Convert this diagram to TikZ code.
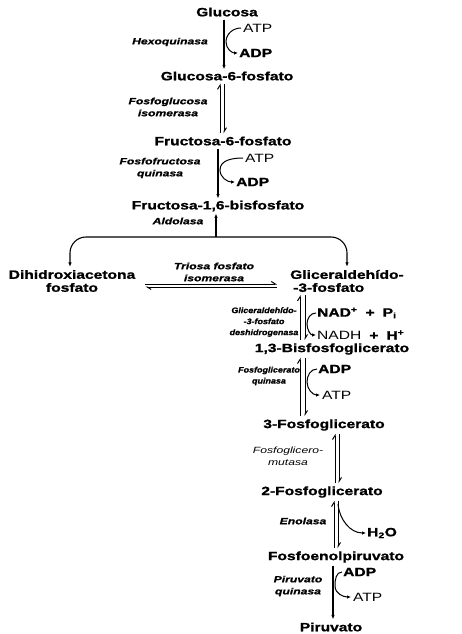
\documentclass[tikz,border=0pt]{standalone}
\usepackage{fontspec}
\usetikzlibrary{arrows.meta}
\newfontfamily\namefont[FakeStretch=1.3, BoldFeatures={FakeBold=1.2}]{Liberation Sans}
\newfontfamily\enzfont[FakeStretch=1.35, BoldItalicFeatures={FakeBold=1}]{Liberation Sans}
\newfontfamily\enzsfont[FakeStretch=1.12, BoldItalicFeatures={FakeBold=1}]{Liberation Sans}
\begin{document}
\begin{tikzpicture}[x=1pt,y=-1pt,
  met/.style={font=\namefont\bfseries\fontsize{12}{13}\selectfont, inner sep=0pt},
  enz/.style={font=\enzfont\bfseries\itshape\fontsize{9}{12}\selectfont, align=center, inner sep=0pt},
  enzl/.style={font=\enzfont\itshape\fontsize{9}{12}\selectfont, align=center, inner sep=0pt},
  enzs/.style={font=\enzsfont\bfseries\itshape\fontsize{8}{11}\selectfont, align=center, inner sep=0pt},
  cof/.style={font=\namefont\bfseries\fontsize{12}{13}\selectfont, inner sep=0pt, anchor=west},
  cofl/.style={font=\namefont\fontsize{12}{13}\selectfont, inner sep=0pt, anchor=west},
  fwd/.style={-{Latex[length=4.5pt,width=3.5pt]}, line width=1.1pt},
  harp/.style={-{Straight Barb[left,length=4pt,width=5pt]}, line width=1pt},
  hook/.style={-{Latex[length=4pt,width=3.5pt]}, line width=1pt}]
\useasboundingbox (0,0) rectangle (461,634);
% metabolites
\node[met] (glc) at (227,12) {Glucosa};
\node[met] (g6p) at (227,76) {Glucosa-6-fosfato};
\node[met] (f6p) at (223,141) {Fructosa-6-fosfato};
\node[met] (f16) at (218,206) {Fructosa-1,6-bisfosfato};
\node[met, align=center] (dhap) at (72,281) {Dihidroxiacetona\\fosfato};
\node[met, align=left, anchor=west] (gap) at (290,281) {Gliceraldehído-\\\hspace{3pt}-3-fosfato};
\node[met] (bpg) at (332,349) {1,3-Bisfosfoglicerato};
\node[met] (pg3) at (324,425) {3-Fosfoglicerato};
\node[met] (pg2) at (322,492) {2-Fosfoglicerato};
\node[met] (pep) at (336,557) {Fosfoenolpiruvato};
\node[met] (pyr) at (331,627) {Piruvato};
% enzymes
\node[enz] (hexo) at (170,42) {Hexoquinasa};
\node[enz] (pgi) at (168,107) {Fosfoglucosa\\isomerasa};
\node[enz] (pfk) at (160,168) {Fosfofructosa\\quinasa};
\node[enz] (ald) at (178,221) {Aldolasa};
\node[enz] (tpi) at (214,272) {Triosa fosfato\\isomerasa};
\node[enzs] (gapdh) at (264,322) {Gliceraldehído-\\-3-fosfato\\deshidrogenasa};
\node[enzs] (pgk) at (269,376) {Fosfoglicerato\\quinasa};
\node[enzl] (pgm) at (288,456) {Fosfoglicero-\\mutasa};
\node[enz] (eno) at (303,521) {Enolasa};
\node[enz] (pk) at (298,586) {Piruvato\\quinasa};
% cofactors
\node[cofl] (atp1) at (243,28) {ATP};
\node[cof] (adp1) at (239,53) {ADP};
\node[cofl] (atp2) at (245,158) {ATP};
\node[cof] (adp2) at (236,182) {ADP};
\node[cof] (nad) at (317,313) {NAD\textsuperscript{+}\hspace{8pt}+\hspace{8pt}P\textsubscript{i}};
\node[cofl] (nadh) at (317,335) {NADH\hspace{8pt}\textbf{+}\hspace{8pt}\textbf{H\textsuperscript{+}}};
\node[cof] (adp3) at (318,369) {ADP};
\node[cofl] (atp3) at (322,395) {ATP};
\node[cof] (h2o) at (367,533) {H\textsubscript{2}O};
\node[cof] (adp4) at (343,572) {ADP};
\node[cofl] (atp4) at (353,597) {ATP};
% columns
\coordinate (c1) at (224,0);
\coordinate (c2a) at (220,0); \coordinate (c2b) at (224,0);
\coordinate (c3) at (218,0);
\coordinate (c4) at (216,0);
\coordinate (c7a) at (300,0); \coordinate (c7b) at (305,0);
\coordinate (c9a) at (335,0); \coordinate (c9b) at (339,0);
\coordinate (c10a) at (334,0); \coordinate (c10b) at (338,0);
\coordinate (c11) at (333,0);
\coordinate (br) at (216,237);
\coordinate (brL) at (70,237);
\coordinate (brR) at (347,237);
% main arrows
\draw[fwd, shorten <=3pt, shorten >=2pt] (c1 |- glc.south) -- (c1 |- g6p.north);
\draw[harp, shorten <=3pt, shorten >=3pt] (c2a |- f6p.north) -- (c2a |- g6p.south);
\draw[harp, shorten <=3pt, shorten >=3pt] (c2b |- g6p.south) -- (c2b |- f6p.north);
\draw[fwd, shorten <=3pt, shorten >=2pt] (c3 |- f6p.south) -- (c3 |- f16.north);
\draw[fwd, shorten >=2pt] (br) -- (c4 |- f16.south);
\draw[fwd, rounded corners=16pt, shorten >=3pt] (br) -| (brL |- dhap.north);
\draw[fwd, rounded corners=16pt, shorten >=3pt] (br) -| (brR |- gap.north);
\draw[harp, shorten <=10pt, shorten >=13pt] ([yshift=-3pt]dhap.east) -- ([yshift=-3pt]dhap.east -| gap.west);
\draw[harp, shorten <=13pt, shorten >=10pt] ([yshift=-6pt]dhap.east -| gap.west) -- ([yshift=-6pt]dhap.east);
\draw[harp, shorten <=3pt, shorten >=3pt] (c7a |- bpg.north) -- (c7a |- gap.south);
\draw[harp, shorten <=3pt, shorten >=3pt] (c7b |- gap.south) -- (c7b |- bpg.north);
\draw[harp, shorten <=3pt, shorten >=3pt] (c7a |- pg3.north) -- (c7a |- bpg.south);
\draw[harp, shorten <=3pt, shorten >=3pt] (c7b |- bpg.south) -- (c7b |- pg3.north);
\draw[harp, shorten <=3pt, shorten >=3pt] (c9a |- pg2.north) -- (c9a |- pg3.south);
\draw[harp, shorten <=3pt, shorten >=3pt] (c9b |- pg3.south) -- (c9b |- pg2.north);
\draw[harp, shorten <=3pt, shorten >=3pt] (c10a |- pep.north) -- (c10a |- pg2.south);
\draw[harp, shorten <=3pt, shorten >=3pt] (c10b |- pg2.south) -- (c10b |- pep.north);
\draw[fwd, shorten <=3pt, shorten >=3pt] (c11 |- pep.south) -- (c11 |- pyr.north);
% hooks
\draw[hook] ([xshift=-2pt]atp1.west) to[out=180,in=90] (226,42) to[out=-90,in=180] ([xshift=-1pt]adp1.west);
\draw[hook] ([xshift=-2pt]atp2.west) to[out=180,in=90] (220,170) to[out=-90,in=180] ([xshift=-1pt]adp2.west);
\draw[hook] ([xshift=-1pt]nad.west) to[out=180,in=90] (307,324) to[out=-90,in=180] ([xshift=-1pt]nadh.west);
\draw[hook] ([xshift=-1pt]adp3.west) to[out=180,in=90] (307,382) to[out=-90,in=180] ([xshift=-2pt]atp3.west);
\draw[hook] ([yshift=-6pt]c10b |- pg2.south) to[out=-85,in=180] ([xshift=-1pt]h2o.west);
\draw[hook] ([xshift=-1pt]adp4.west) to[out=180,in=90] (335,586) to[out=-90,in=180] ([xshift=-2pt]atp4.west);
\end{tikzpicture}
\end{document}
